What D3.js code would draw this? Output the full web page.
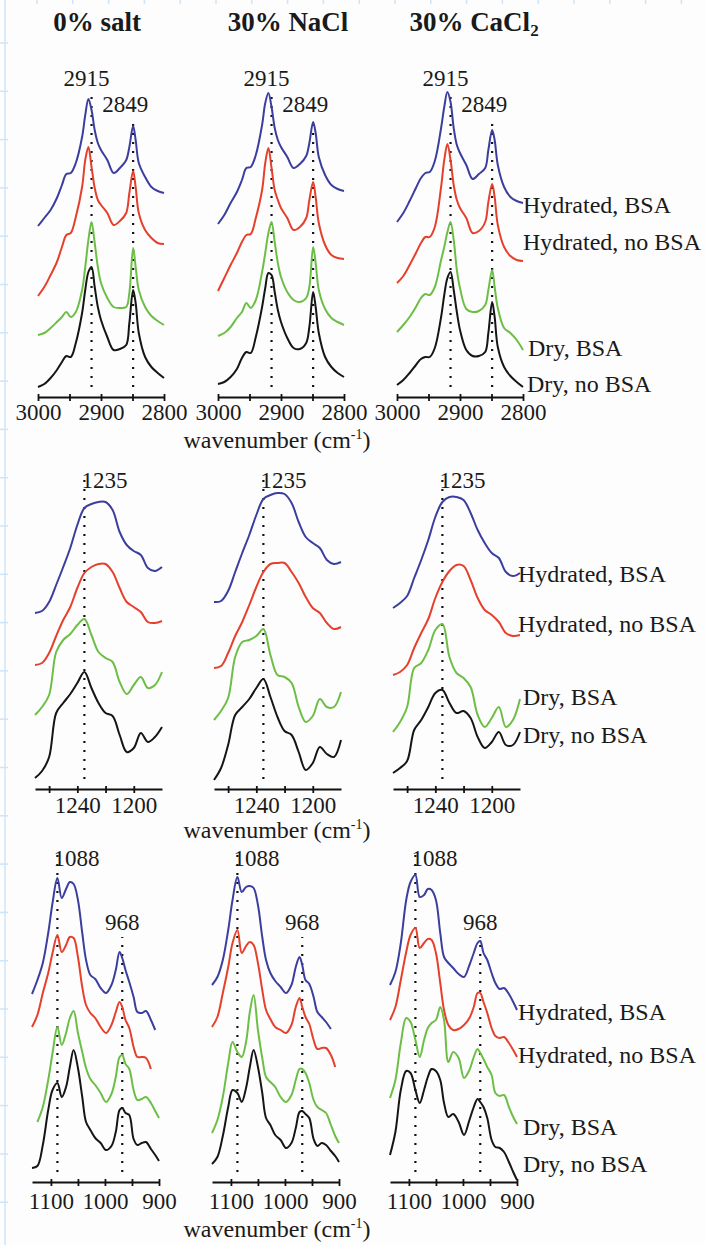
<!DOCTYPE html>
<html>
<head>
<meta charset="utf-8">
<script src="https://cdn.jsdelivr.net/npm/d3@7"></script>
<style>
  html, body { margin: 0; padding: 0; background: #fdfdfd; }
  svg { display: block; }
  svg text { font-family: "Liberation Serif", Tinos, "Times New Roman", serif; fill: #1a1a1a; }
</style>
</head>
<body>
<svg id="fig" width="705" height="1245"></svg>
<script>
// ---- categories ----
const conditions = ["0% salt", "30% NaCl", "30% CaCl"];
const conditionSub = ["", "", "2"];
const samples = ["Hydrated, BSA", "Hydrated, no BSA", "Dry, BSA", "Dry, no BSA"];
const sampleColors = ["#3b3e9e", "#e5402c", "#6dbe46", "#151515"];

// ---- wavenumber grids (cm-1) for the three spectral regions ----
const wnCH = [3000, 2990, 2980, 2970, 2962, 2955, 2948, 2940, 2930, 2925, 2920, 2915, 2910, 2905, 2900,
              2890, 2880, 2870, 2860, 2855, 2849, 2845, 2840, 2830, 2820, 2810, 2800];
const wnAmide = [1270, 1265, 1260, 1255, 1250, 1245, 1240, 1235, 1230, 1225, 1220, 1215, 1210, 1205,
                 1200, 1195, 1190, 1185, 1180];
const wnPO = [1135, 1125, 1115, 1105, 1097, 1088, 1080, 1072, 1065, 1058, 1050, 1042, 1035, 1027, 1018,
              1008, 998, 988, 980, 973, 968, 962, 955, 947, 940, 932, 924, 915, 907, 900];

// ---- axis ticks and marked bands ----
const ticksCH = [3000, 2950, 2900, 2850, 2800];
const tickLabelsCH = [3000, 2900, 2800];
const ticksAmide = [1260, 1240, 1220, 1200];
const tickLabelsAmide = [1240, 1200];
const ticksPO = [1100, 1050, 1000, 950, 900];
const tickLabelsPO = [1100, 1000, 900];
const bandsCH = [2915, 2849];
const bandsAmide = [1235];
const bandsPO = [1088, 968];

// ---- offset absorbance (a.u.), order: Hydrated BSA, Hydrated no BSA, Dry BSA, Dry no BSA ----
// C-H stretching region
const chSalt = [
  [1.71, 1.79, 1.87, 1.99, 2.12, 2.23, 2.24, 2.34, 2.60, 2.82, 2.98, 2.87, 2.67, 2.54, 2.47, 2.37, 2.24, 2.29, 2.37, 2.50, 2.71, 2.57, 2.34, 2.20, 2.10, 2.06, 2.04],
  [1.01, 1.10, 1.22, 1.35, 1.50, 1.62, 1.64, 1.80, 2.10, 2.37, 2.50, 2.30, 2.09, 1.97, 1.92, 1.84, 1.72, 1.76, 1.84, 2.04, 2.26, 2.10, 1.84, 1.67, 1.59, 1.54, 1.53],
  [0.62, 0.64, 0.69, 0.75, 0.80, 0.85, 0.80, 0.85, 1.07, 1.30, 1.57, 1.75, 1.54, 1.30, 1.14, 0.99, 0.90, 0.89, 0.90, 1.04, 1.49, 1.30, 1.07, 0.90, 0.81, 0.76, 0.72],
  [0.10, 0.13, 0.19, 0.27, 0.35, 0.41, 0.40, 0.54, 0.84, 1.07, 1.25, 1.30, 1.10, 0.90, 0.77, 0.60, 0.47, 0.48, 0.52, 0.74, 1.07, 0.94, 0.64, 0.40, 0.30, 0.24, 0.19]
];
const chNaCl = [
  [1.73, 1.82, 1.94, 2.05, 2.17, 2.29, 2.30, 2.42, 2.72, 2.94, 3.04, 2.90, 2.69, 2.57, 2.50, 2.40, 2.29, 2.33, 2.41, 2.54, 2.75, 2.64, 2.40, 2.22, 2.12, 2.08, 2.06],
  [1.06, 1.19, 1.32, 1.44, 1.55, 1.62, 1.63, 1.79, 2.07, 2.34, 2.49, 2.29, 2.07, 1.97, 1.89, 1.79, 1.67, 1.70, 1.79, 1.97, 2.15, 2.00, 1.74, 1.52, 1.42, 1.39, 1.38],
  [0.61, 0.64, 0.70, 0.79, 0.85, 0.94, 0.89, 0.97, 1.25, 1.44, 1.64, 1.75, 1.55, 1.34, 1.20, 1.05, 0.97, 0.95, 0.99, 1.10, 1.50, 1.34, 1.07, 0.88, 0.79, 0.75, 0.72],
  [0.13, 0.15, 0.20, 0.28, 0.39, 0.45, 0.44, 0.60, 0.90, 1.09, 1.24, 1.22, 1.05, 0.87, 0.75, 0.59, 0.49, 0.48, 0.54, 0.70, 1.05, 0.90, 0.64, 0.40, 0.30, 0.24, 0.20]
];
const chCaCl2 = [
  [1.75, 1.84, 1.96, 2.09, 2.19, 2.24, 2.25, 2.36, 2.69, 2.90, 3.05, 2.95, 2.69, 2.52, 2.44, 2.32, 2.18, 2.23, 2.29, 2.47, 2.67, 2.57, 2.32, 2.10, 2.00, 1.96, 1.94],
  [1.14, 1.21, 1.32, 1.44, 1.54, 1.60, 1.60, 1.70, 2.10, 2.37, 2.53, 2.37, 2.12, 1.97, 1.89, 1.79, 1.64, 1.66, 1.75, 1.95, 2.13, 2.00, 1.72, 1.50, 1.41, 1.37, 1.36],
  [0.65, 0.72, 0.80, 0.90, 0.99, 1.03, 1.02, 1.10, 1.37, 1.50, 1.65, 1.75, 1.57, 1.27, 1.09, 0.88, 0.85, 0.86, 0.92, 1.07, 1.27, 1.10, 0.89, 0.69, 0.64, 0.57, 0.47],
  [0.12, 0.17, 0.24, 0.32, 0.38, 0.40, 0.40, 0.49, 0.80, 1.02, 1.19, 1.25, 1.07, 0.85, 0.67, 0.47, 0.41, 0.41, 0.45, 0.64, 0.95, 0.80, 0.50, 0.30, 0.21, 0.15, 0.10]
];
// amide III / antisymmetric phosphate region
const amSalt = [
  [1.76, 1.78, 1.87, 2.04, 2.22, 2.41, 2.64, 2.81, 2.85, 2.87, 2.87, 2.79, 2.57, 2.44, 2.38, 2.34, 2.21, 2.18, 2.22],
  [1.24, 1.26, 1.36, 1.53, 1.69, 1.82, 2.01, 2.16, 2.22, 2.25, 2.25, 2.17, 2.01, 1.87, 1.82, 1.77, 1.67, 1.66, 1.68],
  [0.74, 0.82, 0.94, 1.37, 1.49, 1.55, 1.64, 1.70, 1.54, 1.37, 1.31, 1.27, 1.07, 0.95, 1.04, 1.12, 1.01, 1.04, 1.17],
  [0.11, 0.18, 0.32, 0.76, 0.86, 0.95, 1.06, 1.17, 1.01, 0.86, 0.76, 0.73, 0.54, 0.37, 0.41, 0.56, 0.47, 0.52, 0.62]
];
const amNaCl = [
  [1.87, 1.88, 1.98, 2.17, 2.36, 2.54, 2.74, 2.90, 2.94, 2.96, 2.95, 2.86, 2.67, 2.52, 2.46, 2.41, 2.29, 2.25, 2.27],
  [1.21, 1.23, 1.36, 1.53, 1.67, 1.84, 2.02, 2.17, 2.25, 2.26, 2.26, 2.17, 2.06, 1.92, 1.81, 1.76, 1.66, 1.60, 1.62],
  [0.69, 0.78, 0.91, 1.32, 1.47, 1.49, 1.53, 1.60, 1.34, 1.14, 1.12, 1.06, 0.82, 0.67, 0.73, 0.90, 0.82, 0.82, 0.97],
  [0.09, 0.21, 0.44, 0.74, 0.82, 0.90, 1.01, 1.10, 0.92, 0.72, 0.58, 0.54, 0.37, 0.19, 0.26, 0.42, 0.35, 0.32, 0.49]
];
const amCaCl2 = [
  [1.81, 1.86, 1.93, 2.11, 2.29, 2.49, 2.72, 2.87, 2.92, 2.92, 2.89, 2.76, 2.59, 2.46, 2.36, 2.31, 2.17, 2.13, 2.16],
  [1.14, 1.17, 1.24, 1.41, 1.56, 1.70, 1.91, 2.07, 2.18, 2.24, 2.23, 2.09, 1.91, 1.79, 1.74, 1.67, 1.56, 1.53, 1.54],
  [0.57, 0.67, 0.82, 1.21, 1.26, 1.39, 1.59, 1.65, 1.32, 1.16, 1.11, 1.02, 0.74, 0.62, 0.71, 0.82, 0.62, 0.69, 0.90],
  [0.16, 0.21, 0.28, 0.59, 0.69, 0.82, 0.96, 0.99, 0.86, 0.76, 0.78, 0.71, 0.52, 0.41, 0.47, 0.57, 0.44, 0.44, 0.57]
];
// symmetric phosphate / C-O region (null = outside measured range)
const poSalt = [
  [1.88, 2.02, 2.19, 2.49, 2.79, 3.04, 2.84, 2.93, 3.00, 2.98, 2.82, 2.49, 2.22, 2.07, 2.03, 1.94, 1.89, 1.97, 2.12, 2.30, 2.24, 2.12, 2.00, 1.85, 1.70, 1.69, 1.71, 1.62, 1.52, null],
  [1.55, 1.67, 1.89, 2.09, 2.29, 2.47, 2.30, 2.37, 2.45, 2.44, 2.25, 1.95, 1.77, 1.69, 1.64, 1.55, 1.49, 1.57, 1.70, 1.80, 1.75, 1.62, 1.54, 1.35, 1.25, 1.25, 1.24, 1.13, null, null],
  [null, 0.60, 0.75, 1.02, 1.29, 1.55, 1.37, 1.49, 1.64, 1.71, 1.49, 1.30, 1.14, 1.03, 0.97, 0.89, 0.80, 0.88, 1.05, 1.25, 1.27, 1.18, 1.13, 0.92, 0.82, 0.83, 0.85, 0.79, 0.71, 0.64],
  [0.14, 0.16, 0.37, 0.72, 0.92, 0.99, 0.85, 0.95, 1.15, 1.32, 1.14, 0.85, 0.60, 0.52, 0.44, 0.39, 0.32, 0.36, 0.50, 0.72, 0.74, 0.69, 0.67, 0.43, 0.37, 0.39, 0.40, 0.33, 0.27, 0.21]
];
const poNaCl = [
  [1.97, 2.05, 2.22, 2.52, 2.82, 3.05, 2.90, 2.95, 2.96, 2.94, 2.77, 2.45, 2.22, 2.09, 2.01, 1.95, 1.89, 1.97, 2.15, 2.25, 2.17, 2.02, 1.98, 1.85, 1.70, 1.65, 1.60, 1.53, null, null],
  [1.55, 1.65, 1.89, 2.15, 2.39, 2.52, 2.29, 2.36, 2.40, 2.37, 2.19, 1.92, 1.72, 1.63, 1.55, 1.52, 1.49, 1.57, 1.75, 1.84, 1.75, 1.65, 1.58, 1.42, 1.33, 1.34, 1.34, 1.27, 1.15, null],
  [0.49, 0.62, 0.85, 1.19, 1.40, 1.30, 1.25, 1.40, 1.70, 1.87, 1.52, 1.24, 1.05, 1.00, 0.95, 0.85, 0.80, 0.87, 1.02, 1.13, 1.13, 1.09, 0.99, 0.82, 0.75, 0.72, 0.69, 0.57, 0.46, 0.39],
  [0.18, 0.25, 0.46, 0.75, 0.92, 0.89, 0.80, 0.94, 1.15, 1.32, 1.15, 0.89, 0.64, 0.57, 0.47, 0.42, 0.34, 0.39, 0.54, 0.70, 0.71, 0.68, 0.64, 0.43, 0.36, 0.39, 0.37, 0.31, 0.26, 0.20]
];
const poCaCl2 = [
  [1.97, 2.10, 2.39, 2.82, 3.00, 3.07, 2.85, 2.87, 2.93, 2.92, 2.82, 2.49, 2.25, 2.19, 2.14, 2.08, 2.05, 2.17, 2.29, 2.39, 2.41, 2.29, 2.22, 2.09, 1.99, 1.93, 1.94, 1.88, 1.80, 1.72],
  [1.62, 1.75, 2.02, 2.30, 2.47, 2.54, 2.34, 2.39, 2.43, 2.42, 2.29, 1.99, 1.72, 1.57, 1.52, 1.53, 1.57, 1.64, 1.75, 1.89, 1.89, 1.80, 1.69, 1.54, 1.46, 1.44, 1.45, 1.39, 1.32, 1.25],
  [0.84, 1.02, 1.39, 1.64, 1.60, 1.42, 1.25, 1.42, 1.54, 1.59, 1.62, 1.75, 1.62, 1.20, 1.30, 1.24, 1.04, 1.12, 1.25, 1.33, 1.29, 1.23, 1.15, 1.07, 0.89, 0.86, 0.87, 0.75, 0.65, 0.58],
  [0.27, 0.50, 0.92, 1.11, 1.09, 0.92, 0.79, 0.92, 1.05, 1.13, 1.11, 1.02, 0.79, 0.65, 0.68, 0.60, 0.47, 0.62, 0.75, 0.83, 0.80, 0.75, 0.64, 0.42, 0.35, 0.34, 0.30, 0.20, 0.10, 0.02]
];

// ---- page layout ----
const rows = [
  { grid: wnCH, spectra: [chSalt, chNaCl, chCaCl2], domain: [3000, 2800], ticks: ticksCH, tickLabels: tickLabelsCH,
    bands: bandsCH, axisY: 397, x0: [38, 218, 397], w: 126, tickDy: 23, xLabelY: 448,
    bandTop: [3.07, 2.79], bandLabel: [{ dx: -5, v: 3.11, anchor: "middle" }, { dx: -8, v: 2.85, anchor: "middle" }],
    sampleY: [213, 250, 356, 392], sampleX: [523, 523, 528, 527] },
  { grid: wnAmide, spectra: [amSalt, amNaCl, amCaCl2], domain: [1270, 1180], ticks: ticksAmide, tickLabels: tickLabelsAmide,
    bands: bandsAmide, axisY: 789, x0: [35, 214, 393], w: 127, tickDy: 24, xLabelY: 838,
    bandTop: [3.13], bandLabel: [{ dx: -3, v: 3.01, anchor: "start" }],
    sampleY: [582, 632, 705, 743], sampleX: [518, 518, 523, 523] },
  { grid: wnPO, spectra: [poSalt, poNaCl, poCaCl2], domain: [1135, 900], ticks: ticksPO, tickLabels: tickLabelsPO,
    bands: bandsPO, axisY: 1182, x0: [32, 212, 390], w: 127, tickDy: 27, xLabelY: 1237,
    bandTop: [3.30, 2.45], bandLabel: [{ dx: -4, v: 3.16, anchor: "start" }, { dx: 0, v: 2.52, anchor: "middle" }],
    sampleY: [1020, 1063, 1135, 1172], sampleX: [518, 518, 523, 523] }
];
const titleX = [97, 288, 474];
const unitPx = 100;   // pixels per absorbance unit
const FONT = "'Liberation Serif', Tinos, 'Times New Roman', serif";

const svg = d3.select("#fig").attr("font-family", FONT);

// light-blue ruler along the page edge
const ruler = svg.append("g").attr("stroke", "#cfe4f6").attr("stroke-width", 1.5);
ruler.append("line").attr("x1", 5).attr("x2", 5).attr("y1", 0).attr("y2", 1245);
ruler.selectAll("line.h").data(d3.range(43, 1245, 48.3)).join("line").attr("class", "h")
  .attr("x1", 0).attr("x2", 8).attr("y1", d => d).attr("y2", d => d);
ruler.selectAll("line.t").data(d3.range(37, 705, 35.8)).join("line").attr("class", "t")
  .attr("x1", d => d).attr("x2", d => d).attr("y1", 0).attr("y2", 4);

// column titles
conditions.forEach((c, i) => {
  const t = svg.append("text").attr("x", titleX[i]).attr("y", 31).attr("text-anchor", "middle")
    .attr("font-family", FONT).attr("font-size", 27).attr("font-weight", "bold").text(c);
  if (conditionSub[i]) t.append("tspan").attr("font-size", 17).attr("dy", 5).text(conditionSub[i]);
});

rows.forEach(row => {
  const y = d3.scaleLinear().domain([0, 1]).range([row.axisY, row.axisY - unitPx]);
  row.spectra.forEach((panel, pi) => {
    const x = d3.scaleLinear().domain(row.domain).range([row.x0[pi], row.x0[pi] + row.w]);
    const g = svg.append("g");

    // bottom axis
    const ax = g.append("g").attr("transform", `translate(0,${row.axisY})`)
      .call(d3.axisBottom(x).tickValues(row.ticks).tickSizeOuter(0)
        .tickFormat(d => row.tickLabels.includes(d) ? d : ""));
    ax.attr("font-family", FONT);
    ax.select(".domain").attr("stroke", "#111").attr("stroke-width", 2);
    ax.selectAll(".tick line").attr("stroke", "#111").attr("stroke-width", 1.8).attr("y1", -3).attr("y2", 4);
    ax.selectAll(".tick text").attr("y", row.tickDy).attr("dy", null)
      .attr("font-size", 23).attr("font-family", FONT).attr("fill", "#1a1a1a");

    // dotted band markers
    row.bands.forEach((b, bi) => {
      g.append("line").attr("x1", x(b)).attr("x2", x(b))
        .attr("y1", y(0.1)).attr("y2", y(row.bandTop[bi]))
        .attr("stroke", "#111").attr("stroke-width", 2.2).attr("stroke-dasharray", "2,7");
      const lb = row.bandLabel[bi];
      g.append("text").attr("x", x(b) + lb.dx).attr("y", y(lb.v)).attr("text-anchor", lb.anchor)
        .attr("font-family", FONT).attr("font-size", 23).text(b);
    });

    // spectra
    const line = d3.line().defined(d => d[1] != null)
      .x(d => x(d[0])).y(d => y(d[1])).curve(d3.curveCatmullRom.alpha(0.5));
    panel.forEach((series, si) => {
      g.append("path").datum(row.grid.map((w, k) => [w, series[k]]))
        .attr("fill", "none").attr("stroke", sampleColors[si]).attr("stroke-width", 2)
        .attr("stroke-linejoin", "round").attr("d", line);
    });
  });

  // sample labels beside the right-hand panel
  samples.forEach((s, si) => {
    svg.append("text").attr("x", row.sampleX[si]).attr("y", row.sampleY[si])
      .attr("font-family", FONT).attr("font-size", 24).text(s);
  });

  // shared x-axis title
  const xl = svg.append("text").attr("x", 277).attr("y", row.xLabelY).attr("text-anchor", "middle")
    .attr("font-family", FONT).attr("font-size", 24).text("wavenumber (cm");
  xl.append("tspan").attr("font-size", 14).attr("dy", -9).text("-1");
  xl.append("tspan").attr("dy", 9).text(")");
});
</script>
</body>
</html>
